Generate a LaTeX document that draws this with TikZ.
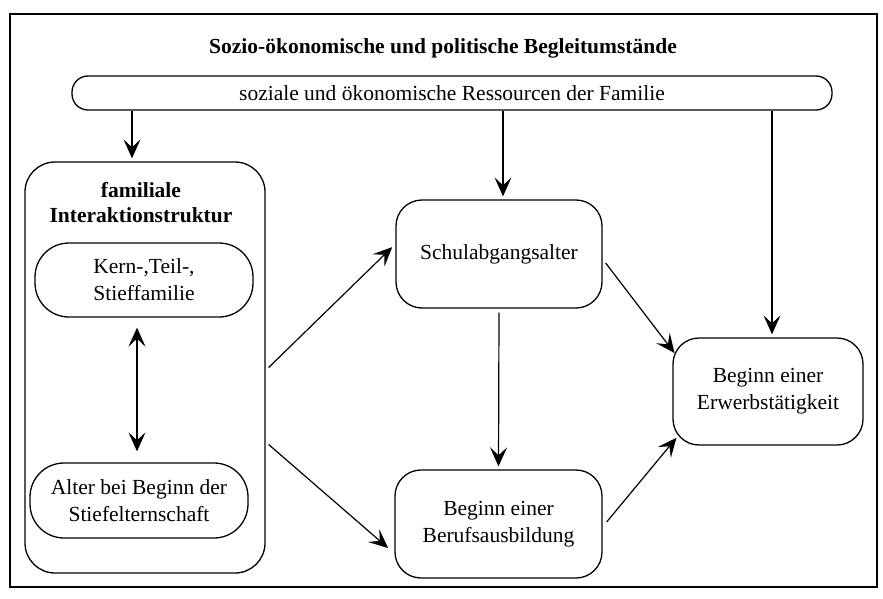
\documentclass[tikz,border=0pt]{standalone}
\usepackage{fontspec}
\setmainfont{Liberation Serif}
\usetikzlibrary{arrows.meta}
\begin{document}
\begin{tikzpicture}[x=1pt,y=-1pt,
  box/.style={draw,line width=1.3pt,rounded corners=#1,align=center,inner sep=0pt},
  arr/.style={line width=1.2pt,-{Stealth[length=19pt,width=17pt,inset=8pt]},shorten >=3pt},
  darr/.style={line width=1.2pt,{Stealth[length=19pt,width=17pt,inset=8pt]}-{Stealth[length=19pt,width=17pt,inset=8pt]}},
  every node/.style={font=\fontsize{21.5}{27}\selectfont}]
\useasboundingbox (0,0) rectangle (883,599);
\draw[line width=1.2pt] (10,14) rectangle (877,587);
\node[font=\fontsize{21.5}{27}\selectfont\bfseries] (title) at (443,48) {Sozio-ökonomische und politische Begleitumstände};
\node[box=16pt,minimum width=760pt,minimum height=34pt] (res) at (452,93) {soziale und ökonomische Ressourcen der Familie};
\node[box=30pt,minimum width=240pt,minimum height=411pt] (fam) at (145,367.5) {};
\node[align=center,font=\fontsize{21.5}{25}\selectfont\bfseries] (famt) at (141,203) {familiale\\Interaktionstruktur};
\node[box=34pt,minimum width=218pt,minimum height=74pt] (kern) at (144,280) {Kern-,Teil-,\\Stieffamilie};
\node[box=34pt,minimum width=218pt,minimum height=75pt] (alter) at (139,500.5) {Alter bei Beginn der\\Stiefelternschaft};
\node[box=26pt,minimum width=206pt,minimum height=108pt] (schul) at (499,254) {Schulabgangsalter};
\node[box=26pt,minimum width=207pt,minimum height=108pt] (beruf) at (498.5,524) {Beginn einer\\Berufsausbildung};
\node[box=26pt,minimum width=190pt,minimum height=107pt] (erw) at (768,391.5) {\rule{0pt}{12pt}Beginn einer\\Erwerbstätigkeit};
% arrows
\draw[arr] ([xshift=-13pt]fam.north |- res.south) -- ([xshift=-13pt]fam.north);
\draw[arr] ([xshift=4pt]schul.north |- res.south) -- ([xshift=4pt]schul.north);
\draw[arr] ([xshift=4pt]erw.north |- res.south) -- ([xshift=4pt]erw.north);
\draw[darr] ([xshift=-7pt,yshift=-10pt]kern.south) -- ([xshift=-2pt,yshift=11pt]alter.north);
\draw[arr] ([shift={(3,0)}]fam.east) -- ([shift={(-1,-9)}]schul.west);
\draw[arr] ([shift={(3,77)}]fam.east) -- ([shift={(-4,26)}]beruf.west);
\draw[arr] ([shift={(0,4)}]schul.south) -- (beruf.north);
\draw[arr] ([shift={(3,9)}]schul.east) -- ([shift={(4,-36)}]erw.west);
\draw[arr] ([shift={(4,-2)}]beruf.east) -- ([shift={(6,44)}]erw.west);
\end{tikzpicture}
\end{document}
